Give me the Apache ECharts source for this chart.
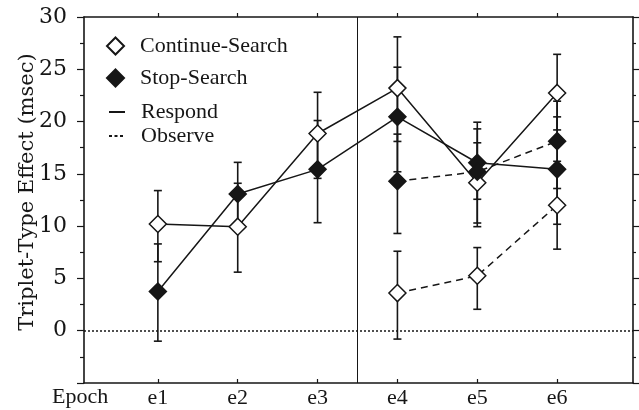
<!DOCTYPE html>
<html><head><meta charset="utf-8">
<script src="https://cdn.jsdelivr.net/npm/echarts@6/dist/echarts.min.js"></script>
<style>html,body{margin:0;padding:0;background:#fff}#c{width:639px;height:410px}</style>
</head><body><div id="c"></div>
<script>
const categories = ['e1', 'e2', 'e3', 'e4', 'e5', 'e6'];
const yTickValues = [0, 5, 10, 15, 20, 25, 30];
const contRespond = [10.2, 9.95, 18.86, 23.2, 14.15, 22.74];
const contRespondLow = [6.6, 5.6, 14.57, 18.1, 9.95, 19.2];
const contRespondHigh = [13.4, 14.1, 22.8, 28.1, 17.97, 26.43];
const stopRespond = [3.75, 13.07, 15.43, 20.45, 16.06, 15.43];
const stopRespondLow = [-1.0, 10.0, 10.33, 15.2, 12.57, 10.18];
const stopRespondHigh = [8.3, 16.1, 20.1, 25.2, 19.3, 20.45];
const contObserve = [null, null, null, 3.6, 5.25, 12.0];
const contObserveLow = [null, null, null, -0.8, 2.05, 7.8];
const contObserveHigh = [null, null, null, 7.6, 7.95, 16.2];
const stopObserve = [null, null, null, 14.3, 15.2, 18.13];
const stopObserveLow = [null, null, null, 9.3, 10.3, 13.6];
const stopObserveHigh = [null, null, null, 18.8, 19.94, 21.95];

const FONT = 'Liberation Serif';
const YFONT = 'DejaVu Serif';
const INK = '#161616';
const xPos = categories.map((c, i) => i + 1);

function pts(vals) { return vals.map((v, i) => [xPos[i], v]); }
function errData(lo, hi) {
  const out = [];
  lo.forEach((l, i) => { if (l != null && hi[i] != null) out.push([xPos[i], l, hi[i]]); });
  return out;
}
function errSeries(lo, hi) {
  return {
    type: 'custom', z: 1, silent: true, animation: false,
    data: errData(lo, hi),
    encode: { x: 0, y: [1, 2] },
    renderItem: function (params, api) {
      const x = api.value(0);
      const a = api.coord([x, api.value(1)]);
      const b = api.coord([x, api.value(2)]);
      const w = 4;
      const st = { stroke: INK, lineWidth: 1.6, fill: null };
      return { type: 'group', children: [
        { type: 'line', shape: { x1: a[0], y1: a[1], x2: b[0], y2: b[1] }, style: st },
        { type: 'line', shape: { x1: a[0] - w, y1: a[1], x2: a[0] + w, y2: a[1] }, style: st },
        { type: 'line', shape: { x1: b[0] - w, y1: b[1], x2: b[0] + w, y2: b[1] }, style: st }
      ] };
    }
  };
}
function lineSeries(name, vals, filled, dashed) {
  return {
    name: name, type: 'line', z: 3, data: pts(vals), connectNulls: false,
    symbol: 'diamond', symbolSize: 17, showAllSymbol: true, animation: false,
    lineStyle: { color: INK, width: 1.5, type: dashed ? [7, 5] : 'solid' },
    itemStyle: { color: filled ? INK : '#fff', borderColor: INK, borderWidth: 1.5 }
  };
}

const option = {
  backgroundColor: '#fff',
  animation: false,
  grid: { left: 84, right: 6, top: 17, bottom: 27 },
  legend: [
    {
      data: ['Continue-Search', 'Stop-Search'], orient: 'vertical', left: 101, top: 30,
      itemWidth: 17, itemHeight: 17, itemGap: 10, icon: 'diamond', selectedMode: false,
      textStyle: { fontFamily: FONT, fontSize: 22, color: INK, lineHeight: 22, padding: [0, 0, 0, 11] }
    },
    {
      data: ['Respond', 'Observe'], orient: 'vertical', left: 103, top: 96,
      itemWidth: 16, itemHeight: 12, itemGap: 2, selectedMode: false,
      itemStyle: { opacity: 0 },
      textStyle: { fontFamily: FONT, fontSize: 22, color: INK, lineHeight: 22, padding: [0, 0, 0, 11] }
    }
  ],
  xAxis: [
    {
      type: 'value', position: 'bottom', min: 0.075, max: 6.95,
      splitLine: { show: false },
      axisLine: { show: true, onZero: false, lineStyle: { color: INK, width: 1.6 } },
      axisTick: { show: true, inside: true, length: 4, customValues: xPos, lineStyle: { color: INK, width: 1.2 } },
      axisLabel: { customValues: xPos, formatter: v => categories[Math.round(v) - 1] || '', margin: 4,
        fontFamily: FONT, fontSize: 22, color: INK }
    },
    {
      type: 'value', position: 'top', min: 0.075, max: 6.95,
      splitLine: { show: false },
      axisLine: { show: true, onZero: false, lineStyle: { color: INK, width: 1.6 } },
      axisTick: { show: true, inside: false, length: 4, customValues: xPos, lineStyle: { color: INK, width: 1.2 } },
      axisLabel: { show: false }
    }
  ],
  yAxis: [
    {
      type: 'value', position: 'left', min: -5, max: 30, interval: 5,
      name: 'Triplet-Type Effect (msec)', nameLocation: 'middle', nameGap: 46, nameMoveOverlap: false,
      nameTextStyle: { fontFamily: YFONT, fontSize: 21, color: INK, padding: [0, 0, 0, 16] },
      splitLine: { show: false },
      axisLine: { show: true, onZero: false, lineStyle: { color: INK, width: 1.6 } },
      axisTick: { show: true, length: 7, lineStyle: { color: INK, width: 1.2 } },
      minorTick: { show: true, splitNumber: 2, length: 4, lineStyle: { color: INK, width: 1.2 } },
      axisLabel: { margin: 17, fontFamily: YFONT, fontSize: 22, color: INK,
        formatter: v => yTickValues.indexOf(v) >= 0 ? String(v) : '' }
    },
    {
      type: 'value', position: 'right', min: -5, max: 30, interval: 5,
      splitLine: { show: false },
      axisLine: { show: true, onZero: false, lineStyle: { color: INK, width: 1.6 } },
      axisTick: { show: true, length: 6, lineStyle: { color: INK, width: 1.2 } },
      minorTick: { show: true, splitNumber: 2, length: 3, lineStyle: { color: INK, width: 1.2 } },
      axisLabel: { show: false }
    }
  ],
  graphic: [
    { type: 'text', left: 52, top: 386, style: { text: 'Epoch', fontFamily: FONT, fontSize: 22, fill: INK } }
  ],
  series: [
    {
      type: 'line', name: '_ref', data: [], silent: true, z: 0,
      markLine: {
        silent: true, symbol: 'none', animation: false, label: { show: false },
        data: [
          { yAxis: 0, lineStyle: { color: INK, width: 1.5, type: [2, 2] } },
          { xAxis: 3.5, lineStyle: { color: INK, width: 1, type: 'solid' } }
        ]
      }
    },
    errSeries(contRespondLow, contRespondHigh),
    errSeries(stopRespondLow, stopRespondHigh),
    errSeries(contObserveLow, contObserveHigh),
    errSeries(stopObserveLow, stopObserveHigh),
    lineSeries('Continue-Search', contRespond, false, false),
    lineSeries('Stop-Search', stopRespond, true, false),
    lineSeries('Continue-Search', contObserve, false, true),
    lineSeries('Stop-Search', stopObserve, true, true),
    { name: 'Respond', type: 'line', data: [], symbol: 'none', lineStyle: { color: INK, width: 1.3, type: 'solid' }, itemStyle: { color: INK } },
    { name: 'Observe', type: 'line', data: [], symbol: 'none', lineStyle: { color: INK, width: 1.3, type: [3, 2.5] }, itemStyle: { color: INK } }
  ]
};
const chart = echarts.init(document.getElementById('c'), null, { renderer: 'canvas' });
chart.setOption(option);
</script></body></html>
